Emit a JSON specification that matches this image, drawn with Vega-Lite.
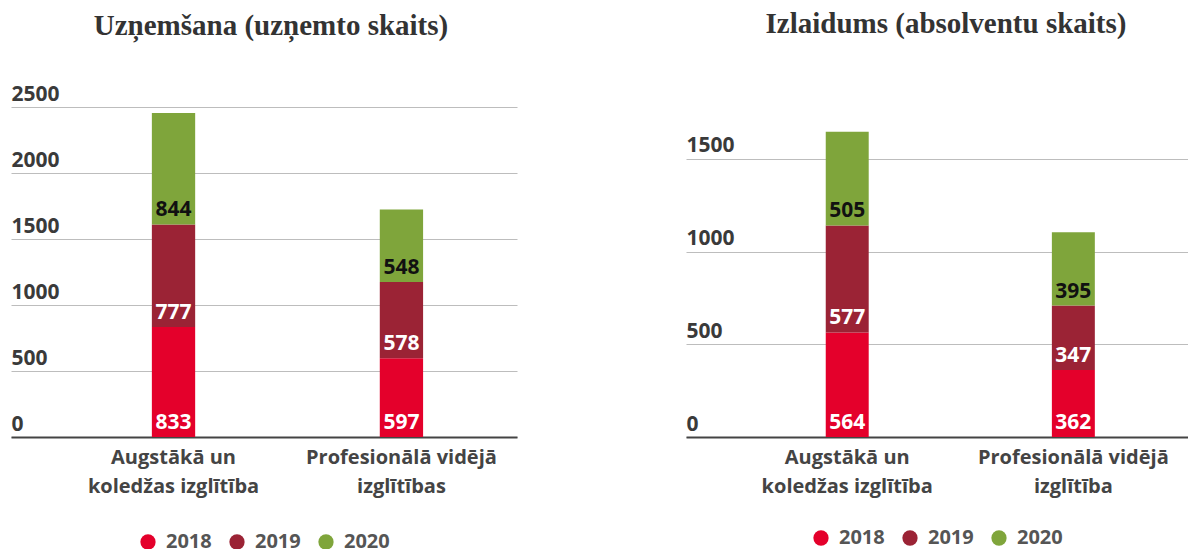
{
  "$schema": "https://vega.github.io/schema/vega-lite/v6.json",
  "padding": {"left": 11, "top": 10, "right": 0, "bottom": 0},
  "autosize": {"type": "pad"},
  "background": "white",
  "data": {"values": [
    {"panel": "A", "cat": "Augstākā un|koledžas izglītība", "year": "2018", "value": 833},
    {"panel": "A", "cat": "Augstākā un|koledžas izglītība", "year": "2019", "value": 777},
    {"panel": "A", "cat": "Augstākā un|koledžas izglītība", "year": "2020", "value": 844},
    {"panel": "A", "cat": "Profesionālā vidējā|izglītības", "year": "2018", "value": 597},
    {"panel": "A", "cat": "Profesionālā vidējā|izglītības", "year": "2019", "value": 578},
    {"panel": "A", "cat": "Profesionālā vidējā|izglītības", "year": "2020", "value": 548},
    {"panel": "B", "cat": "Augstākā un|koledžas izglītība", "year": "2018", "value": 564},
    {"panel": "B", "cat": "Augstākā un|koledžas izglītība", "year": "2019", "value": 577},
    {"panel": "B", "cat": "Augstākā un|koledžas izglītība", "year": "2020", "value": 505},
    {"panel": "B", "cat": "Profesionālā vidējā|izglītība", "year": "2018", "value": 362},
    {"panel": "B", "cat": "Profesionālā vidējā|izglītība", "year": "2019", "value": 347},
    {"panel": "B", "cat": "Profesionālā vidējā|izglītība", "year": "2020", "value": 395}
  ]},
  "config": {
    "view": {"stroke": null},
    "title": {"font": "Liberation Serif", "fontSize": 29, "fontWeight": "bold", "color": "#333333", "anchor": "middle", "frame": "group", "baseline": "alphabetic"},
    "axis": {"labelFont": "Open Sans", "labelFontWeight": "bold", "labelColor": "#3a3a3a", "title": null},
    "legend": {"layout": {"bottom": {"anchor": "middle"}}}
  },
  "spacing": 169,
  "resolve": {"legend": {"color": "independent"}},
  "hconcat": [
    {
      "width": 506,
      "height": 330,
      "title": {"text": "Uzņemšana (uzņemto skaits)", "offset": 42, "dx": 7},
      "transform": [
        {"filter": "datum.panel === 'A'"},
        {"stack": "value", "groupby": ["cat"], "sort": [{"field": "year", "order": "ascending"}], "as": ["v0", "v1"]}
      ],
      "encoding": {
        "x": {"field": "cat", "type": "nominal", "sort": null,
          "scale": {"paddingInner": 0.81, "paddingOuter": 0.515, "align": 0.6},
          "axis": {"labelExpr": "split(datum.label, '|')", "labelAngle": 0, "labelFontSize": 20, "labelLineHeight": 29, "labelPadding": 10, "labelLimit": 400, "ticks": false, "domainColor": "#444444", "domainWidth": 2, "labelColor": "#444444"}}
      },
      "layer": [
        {
          "mark": {"type": "bar"},
          "encoding": {
            "y": {"field": "v0", "type": "quantitative", "scale": {"domain": [0, 2500], "nice": false},
              "axis": {"values": [0, 500, 1000, 1500, 2000, 2500], "format": "d", "orient": "left", "domain": false, "ticks": false, "tickSize": 0, "grid": true, "gridColor": "#bdbdbd", "gridWidth": 1, "labelAlign": "left", "labelBaseline": "alphabetic", "labelPadding": 0, "labelOffset": -7, "labelFontSize": 21}},
            "y2": {"field": "v1"},
            "color": {"field": "year", "type": "nominal",
              "scale": {"domain": ["2018", "2019", "2020"], "range": ["#e4002b", "#9b2335", "#7fa53b"]},
              "legend": {"orient": "bottom", "direction": "horizontal", "title": null, "symbolType": "circle", "symbolSize": 234, "symbolStrokeWidth": 0, "symbolOpacity": 1, "labelFont": "Open Sans", "labelFontWeight": "bold", "labelFontSize": 20, "labelColor": "#555555", "columnPadding": 15, "labelOffset": 8, "offset": 36}}
          }
        },
        {
          "mark": {"type": "text", "baseline": "alphabetic", "dy": -8, "font": "Open Sans", "fontWeight": "bold", "fontSize": 21},
          "encoding": {
            "y": {"field": "v0", "type": "quantitative"},
            "text": {"field": "value", "type": "quantitative"},
            "color": {"condition": {"test": "datum.year === '2020'", "value": "#111111"}, "value": "#ffffff"}
          }
        }
      ]
    },
    {
      "width": 502,
      "height": 330,
      "title": {"text": "Izlaidums (absolventu skaits)", "offset": 68, "dx": 9},
      "transform": [
        {"filter": "datum.panel === 'B'"},
        {"stack": "value", "groupby": ["cat"], "sort": [{"field": "year", "order": "ascending"}], "as": ["v0", "v1"]}
      ],
      "encoding": {
        "x": {"field": "cat", "type": "nominal", "sort": null,
          "scale": {"paddingInner": 0.81, "paddingOuter": 0.515, "align": 0.6},
          "axis": {"labelExpr": "split(datum.label, '|')", "labelAngle": 0, "labelFontSize": 20, "labelLineHeight": 29, "labelPadding": 10, "labelLimit": 400, "ticks": false, "domainColor": "#444444", "domainWidth": 2, "labelColor": "#444444"}}
      },
      "layer": [
        {
          "mark": {"type": "bar"},
          "encoding": {
            "y": {"field": "v0", "type": "quantitative", "scale": {"domain": [0, 1780], "nice": false},
              "axis": {"values": [0, 500, 1000, 1500], "format": "d", "orient": "left", "domain": false, "ticks": false, "tickSize": 0, "grid": true, "gridColor": "#bdbdbd", "gridWidth": 1, "labelAlign": "left", "labelBaseline": "alphabetic", "labelPadding": 0, "labelOffset": -7, "labelFontSize": 21}},
            "y2": {"field": "v1"},
            "color": {"field": "year", "type": "nominal",
              "scale": {"domain": ["2018", "2019", "2020"], "range": ["#e4002b", "#9b2335", "#7fa53b"]},
              "legend": {"orient": "bottom", "direction": "horizontal", "title": null, "symbolType": "circle", "symbolSize": 234, "symbolStrokeWidth": 0, "symbolOpacity": 1, "labelFont": "Open Sans", "labelFontWeight": "bold", "labelFontSize": 20, "labelColor": "#555555", "columnPadding": 15, "labelOffset": 8, "offset": 32}}
          }
        },
        {
          "mark": {"type": "text", "baseline": "alphabetic", "dy": -8, "font": "Open Sans", "fontWeight": "bold", "fontSize": 21},
          "encoding": {
            "y": {"field": "v0", "type": "quantitative"},
            "text": {"field": "value", "type": "quantitative"},
            "color": {"condition": {"test": "datum.year === '2020'", "value": "#111111"}, "value": "#ffffff"}
          }
        }
      ]
    }
  ]
}
